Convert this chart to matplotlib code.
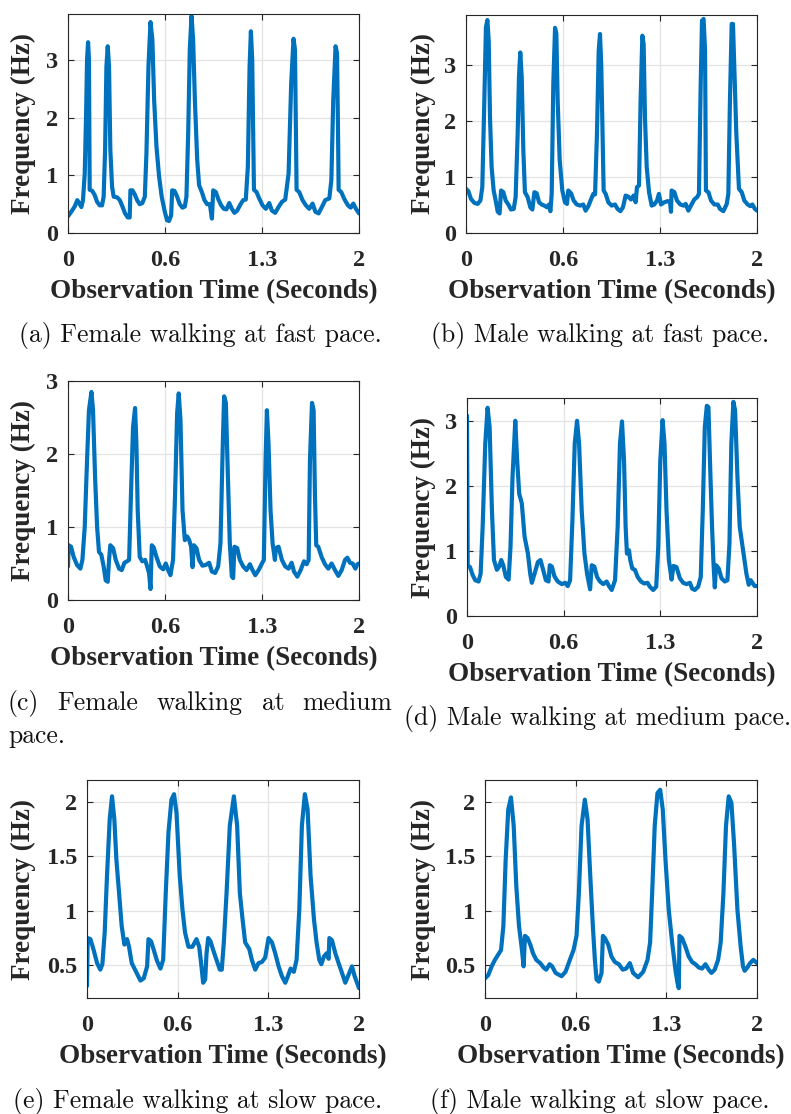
import numpy as np
import matplotlib
matplotlib.use("Agg")
import matplotlib.pyplot as plt
from matplotlib.ticker import FuncFormatter

# gait frequency traces, time in seconds / frequency in Hz
t_a = [0.000, 0.023, 0.046, 0.064, 0.080, 0.092, 0.103, 0.115, 0.124, 0.131, 0.138, 0.144, 0.147, 0.149,
       0.167, 0.183, 0.200, 0.218, 0.234, 0.245, 0.255, 0.264, 0.273, 0.282, 0.291, 0.303, 0.314,
       0.337, 0.356, 0.374, 0.392, 0.411, 0.424, 0.429, 0.443, 0.459, 0.475, 0.493, 0.511, 0.528, 0.539,
       0.553, 0.567, 0.580, 0.592, 0.608, 0.626, 0.644, 0.665, 0.681, 0.695,
       0.709, 0.716, 0.732, 0.750, 0.768, 0.787, 0.803, 0.814, 0.826, 0.837, 0.849, 0.860, 0.872, 0.888,
       0.901, 0.920, 0.938, 0.956, 0.975, 0.989,
       0.998, 1.016, 1.034, 1.053, 1.071, 1.089, 1.108, 1.126, 1.144, 1.163, 1.186, 1.204, 1.222, 1.236,
       1.248, 1.257, 1.266, 1.273, 1.278,
       1.296, 1.314, 1.337, 1.360, 1.383, 1.401, 1.424, 1.447, 1.470, 1.493, 1.516, 1.534, 1.550, 1.560,
       1.567, 1.571,
       1.589, 1.612, 1.635, 1.658, 1.681, 1.700, 1.722, 1.745, 1.768, 1.796, 1.810, 1.823, 1.839, 1.849,
       1.856, 1.860,
       1.878, 1.901, 1.924, 1.943, 1.961, 1.979, 2.000]
f_a = [0.29, 0.37, 0.46, 0.57, 0.50, 0.45, 0.57, 1.03, 2.02, 3.01, 3.31, 3.01, 1.73, 0.75,
       0.73, 0.66, 0.54, 0.48, 0.48, 0.63, 1.44, 2.89, 3.24, 2.89, 1.44, 0.80, 0.63,
       0.62, 0.57, 0.46, 0.34, 0.27, 0.27, 0.74, 0.74, 0.67, 0.57, 0.50, 0.52, 0.63, 1.38,
       2.89, 3.66, 3.35, 2.31, 1.50, 0.98, 0.63, 0.37, 0.22, 0.21,
       0.31, 0.74, 0.73, 0.63, 0.50, 0.44, 0.46, 0.63, 1.73, 3.18, 3.77, 3.35, 2.31, 1.27,
       0.83, 0.71, 0.57, 0.50, 0.50, 0.25,
       0.74, 0.71, 0.58, 0.48, 0.42, 0.41, 0.52, 0.42, 0.35, 0.39, 0.50, 0.57, 0.58, 1.15,
       2.89, 3.50, 3.01, 1.73, 0.75,
       0.71, 0.60, 0.48, 0.42, 0.52, 0.39, 0.35, 0.45, 0.54, 0.58, 1.03, 2.60, 3.37, 3.18,
       1.73, 0.75,
       0.71, 0.57, 0.48, 0.42, 0.51, 0.37, 0.34, 0.45, 0.57, 0.60, 0.92, 2.31, 3.24, 3.12,
       1.73, 0.75,
       0.71, 0.58, 0.48, 0.44, 0.51, 0.42, 0.34]

t_b = [0.000, 0.016, 0.034, 0.057, 0.080, 0.099, 0.112, 0.126, 0.137, 0.147, 0.156, 0.165, 0.176, 0.190,
       0.204, 0.218, 0.231,
       0.241, 0.257, 0.273, 0.291, 0.309, 0.328, 0.341, 0.355, 0.364, 0.373, 0.383, 0.394, 0.405, 0.424,
       0.442, 0.456,
       0.470, 0.486, 0.502, 0.520, 0.538, 0.557, 0.570, 0.580, 0.589, 0.600, 0.612, 0.621, 0.630, 0.644,
       0.662, 0.680, 0.694,
       0.703, 0.722, 0.740, 0.761, 0.784, 0.806, 0.822, 0.841, 0.859, 0.875, 0.887, 0.900, 0.912, 0.921,
       0.930, 0.939, 0.946,
       0.960, 0.978, 1.001, 1.024, 1.042, 1.061, 1.079, 1.097, 1.116, 1.134, 1.152, 1.166, 1.175, 1.189,
       1.200, 1.212, 1.221, 1.230, 1.242, 1.258,
       1.276, 1.294, 1.313, 1.326, 1.340, 1.363, 1.386, 1.402, 1.409, 1.413,
       1.432, 1.450, 1.473, 1.496, 1.510, 1.528, 1.546, 1.569, 1.588, 1.601, 1.613, 1.622, 1.633, 1.643,
       1.649,
       1.666, 1.684, 1.707, 1.730, 1.746, 1.769, 1.792, 1.803, 1.814, 1.826, 1.835, 1.844, 1.858, 1.876,
       1.895, 1.913, 1.936, 1.954, 1.968, 1.986, 2.000]
f_b = [0.79, 0.75, 0.61, 0.54, 0.52, 0.58, 0.82, 2.37, 3.68, 3.81, 3.44, 2.07, 1.18, 0.76,
       0.58, 0.38, 0.35,
       0.76, 0.73, 0.58, 0.51, 0.42, 0.43, 0.64, 1.77, 2.79, 3.23, 2.79, 1.48, 0.73, 0.64,
       0.46, 0.42,
       0.73, 0.71, 0.55, 0.51, 0.49, 0.46, 0.51, 0.39, 0.70, 2.67, 3.67, 3.56, 2.37, 1.30,
       0.76, 0.55, 0.52,
       0.76, 0.71, 0.58, 0.51, 0.49, 0.51, 0.40, 0.48, 0.60, 0.70, 0.69, 1.77, 3.26, 3.56,
       2.96, 1.77, 0.76,
       0.70, 0.55, 0.49, 0.51, 0.43, 0.39, 0.46, 0.67, 0.65, 0.60, 0.67, 0.55, 0.82, 0.85,
       2.37, 3.53, 3.38, 2.07, 1.18, 0.73,
       0.49, 0.51, 0.58, 0.70, 0.51, 0.55, 0.57, 0.55, 0.38, 0.76,
       0.73, 0.58, 0.51, 0.49, 0.52, 0.40, 0.49, 0.60, 0.64, 0.70, 2.67, 3.80, 3.83, 3.26,
       0.76,
       0.73, 0.58, 0.51, 0.51, 0.43, 0.39, 0.52, 0.70, 2.37, 3.74, 3.74, 2.96, 1.77, 0.79,
       0.73, 0.58, 0.51, 0.48, 0.51, 0.43, 0.40]

t_c = [0.000, 0.005, 0.021, 0.039, 0.062, 0.085, 0.099, 0.115, 0.131, 0.144, 0.161, 0.172, 0.186, 0.200,
       0.213, 0.229, 0.245, 0.259, 0.273,
       0.282, 0.291, 0.310, 0.328, 0.351, 0.369, 0.388, 0.406, 0.420, 0.433, 0.447, 0.461, 0.470, 0.479,
       0.493, 0.511, 0.530, 0.544, 0.557, 0.567,
       0.576, 0.589, 0.608, 0.631, 0.654, 0.672, 0.686, 0.704, 0.722, 0.736, 0.750, 0.761, 0.773, 0.787,
       0.803, 0.819, 0.833, 0.846, 0.856,
       0.865, 0.883, 0.901, 0.924, 0.947, 0.970, 0.989, 1.011, 1.032, 1.048, 1.064, 1.073, 1.085, 1.099,
       1.112, 1.126, 1.135,
       1.144, 1.163, 1.181, 1.204, 1.227, 1.250, 1.268, 1.287, 1.310, 1.333, 1.346, 1.358, 1.367, 1.378,
       1.392, 1.406, 1.422,
       1.429, 1.447, 1.470, 1.493, 1.516, 1.537, 1.553, 1.576, 1.599, 1.622, 1.640, 1.654, 1.663, 1.677,
       1.688, 1.697, 1.706,
       1.720, 1.743, 1.766, 1.789, 1.812, 1.835, 1.858, 1.881, 1.904, 1.920, 1.938, 1.956, 1.975, 1.989,
       2.000]
f_c = [0.46, 0.75, 0.73, 0.59, 0.48, 0.43, 0.55, 1.00, 1.92, 2.60, 2.85, 2.60, 1.69, 1.00,
       0.66, 0.62, 0.46, 0.27, 0.25,
       0.55, 0.75, 0.71, 0.55, 0.43, 0.41, 0.51, 0.53, 0.55, 1.46, 2.37, 2.63, 2.15, 1.23,
       0.59, 0.53, 0.55, 0.46, 0.37, 0.15,
       0.75, 0.72, 0.59, 0.46, 0.42, 0.50, 0.42, 0.34, 0.55, 1.46, 2.56, 2.83, 2.47, 1.23,
       0.82, 0.87, 0.82, 0.73, 0.45,
       0.75, 0.71, 0.55, 0.47, 0.48, 0.51, 0.39, 0.37, 0.46, 0.78, 2.15, 2.79, 2.70, 1.69,
       0.78, 0.32, 0.30,
       0.73, 0.71, 0.55, 0.46, 0.41, 0.49, 0.41, 0.34, 0.41, 0.50, 0.55, 1.92, 2.60, 2.15,
       1.23, 0.78, 0.55,
       0.71, 0.73, 0.55, 0.46, 0.43, 0.51, 0.39, 0.32, 0.41, 0.53, 0.49, 0.55, 1.92, 2.70,
       2.60, 1.46, 0.75,
       0.73, 0.59, 0.49, 0.43, 0.50, 0.41, 0.33, 0.41, 0.55, 0.58, 0.51, 0.50, 0.43, 0.49,
       0.50]

t_d = [0.000, 0.005, 0.021, 0.039, 0.057, 0.080, 0.094, 0.108, 0.126, 0.142, 0.156, 0.172, 0.186, 0.206,
       0.222, 0.236, 0.250, 0.268, 0.287,
       0.300, 0.314, 0.333, 0.346, 0.360, 0.378, 0.397, 0.420, 0.436, 0.447, 0.466, 0.489, 0.507, 0.525,
       0.544, 0.562,
       0.571, 0.585, 0.603, 0.626, 0.654, 0.677, 0.695, 0.711, 0.727, 0.743, 0.759, 0.773, 0.791, 0.810,
       0.828, 0.849,
       0.860, 0.878, 0.897, 0.917, 0.940, 0.963, 0.979, 0.998, 1.021, 1.039, 1.055, 1.069, 1.083, 1.094,
       1.103,
       1.117, 1.126, 1.140, 1.158, 1.177, 1.200, 1.222, 1.245, 1.261, 1.284, 1.305,
       1.319, 1.333, 1.349, 1.362, 1.376, 1.392, 1.411,
       1.424, 1.445, 1.468, 1.491, 1.514, 1.537, 1.553, 1.571, 1.594, 1.612, 1.626, 1.640, 1.654, 1.665,
       1.679, 1.690, 1.700, 1.709,
       1.718, 1.736, 1.755, 1.778, 1.796, 1.810, 1.823, 1.837, 1.849, 1.865, 1.881, 1.904, 1.927, 1.943,
       1.956, 1.972, 1.984, 2.000]
f_d = [3.08, 0.78, 0.75, 0.63, 0.55, 0.53, 0.65, 1.37, 2.65, 3.20, 2.90, 1.62, 0.86, 0.71,
       0.76, 0.86, 0.78, 0.60, 0.56,
       1.06, 2.14, 3.00, 2.39, 1.88, 1.73, 1.22, 0.96, 0.65, 0.51, 0.65, 0.83, 0.86, 0.71,
       0.55, 0.53,
       0.78, 0.76, 0.61, 0.53, 0.49, 0.51, 0.46, 0.55, 1.47, 2.65, 3.00, 2.65, 1.62, 0.96,
       0.65, 0.41,
       0.78, 0.76, 0.60, 0.53, 0.49, 0.53, 0.46, 0.40, 0.55, 1.37, 2.65, 2.99, 2.39, 1.37,
       0.96,
       1.01, 0.86, 0.73, 0.71, 0.60, 0.53, 0.50, 0.51, 0.45, 0.40, 0.45,
       1.06, 2.39, 3.01, 2.65, 1.62, 0.86, 0.56,
       0.77, 0.75, 0.58, 0.51, 0.49, 0.51, 0.42, 0.40, 0.45, 0.60, 1.62, 2.90, 3.23, 3.21,
       2.14, 1.37, 0.81, 0.44,
       0.78, 0.73, 0.58, 0.53, 0.55, 1.11, 2.65, 3.29, 3.16, 2.14, 1.37, 1.01, 0.65, 0.48,
       0.55, 0.50, 0.46, 0.46]

t_e = [0.000, 0.005, 0.025, 0.049, 0.074, 0.098, 0.113, 0.130, 0.147, 0.167, 0.184, 0.201, 0.216, 0.236,
       0.255, 0.275,
       0.294, 0.309, 0.329, 0.353, 0.373, 0.393, 0.417, 0.442, 0.452, 0.471, 0.491, 0.515, 0.540, 0.560,
       0.579, 0.599, 0.621, 0.640, 0.658, 0.682, 0.702, 0.721, 0.746, 0.775, 0.805, 0.825, 0.839, 0.854,
       0.869,
       0.879, 0.891, 0.908, 0.928, 0.952, 0.977, 0.991, 1.006, 1.026, 1.050, 1.080, 1.104, 1.124, 1.144,
       1.163, 1.193, 1.212, 1.237,
       1.261, 1.286, 1.310, 1.335, 1.360, 1.384, 1.409, 1.433, 1.458, 1.477, 1.497, 1.521, 1.541,
       1.561, 1.580, 1.602, 1.622, 1.644, 1.669, 1.688, 1.708, 1.723, 1.742, 1.762, 1.777, 1.782, 1.801,
       1.826, 1.850, 1.875, 1.899, 1.919, 1.948, 1.968, 2.000]
f_e = [0.31, 0.75, 0.74, 0.64, 0.52, 0.46, 0.51, 0.80, 1.32, 1.84, 2.05, 1.84, 1.47, 1.16,
       0.86, 0.69,
       0.74, 0.67, 0.52, 0.46, 0.41, 0.36, 0.38, 0.49, 0.74, 0.72, 0.64, 0.54, 0.47, 0.55,
       1.16, 1.72, 2.02, 2.07, 1.90, 1.32, 1.01, 0.80, 0.67, 0.67, 0.74, 0.67, 0.52, 0.34,
       0.37,
       0.61, 0.75, 0.72, 0.64, 0.55, 0.46, 0.46, 0.71, 1.16, 1.78, 2.05, 1.78, 1.16, 0.92,
       0.71, 0.65, 0.55, 0.46,
       0.52, 0.53, 0.57, 0.75, 0.71, 0.61, 0.49, 0.40, 0.34, 0.40, 0.47, 0.44, 0.55,
       1.01, 1.78, 2.07, 1.93, 1.32, 0.92, 0.71, 0.55, 0.51, 0.58, 0.61, 0.56, 0.75, 0.73,
       0.61, 0.52, 0.43, 0.34, 0.40, 0.49, 0.40, 0.29]

t_f = [0.000, 0.024, 0.049, 0.073, 0.098, 0.118, 0.135, 0.152, 0.171, 0.191, 0.211, 0.230, 0.250, 0.269,
       0.284,
       0.294, 0.313, 0.333, 0.353, 0.377, 0.406, 0.431, 0.450, 0.475, 0.494, 0.519, 0.563, 0.592, 0.624,
       0.651, 0.673,
       0.690, 0.710, 0.734, 0.754, 0.774, 0.793, 0.808, 0.820, 0.837, 0.857,
       0.867, 0.881, 0.906, 0.930, 0.955, 0.984, 1.013, 1.038, 1.065, 1.089, 1.126, 1.163, 1.195, 1.214,
       1.229, 1.248, 1.268, 1.288, 1.307, 1.327, 1.351, 1.376, 1.400, 1.415, 1.425,
       1.430, 1.449, 1.474, 1.498, 1.523, 1.547, 1.572, 1.596, 1.621, 1.645, 1.665, 1.689, 1.714, 1.733,
       1.753, 1.772, 1.792, 1.812, 1.831, 1.856, 1.880, 1.897, 1.909, 1.929, 1.949, 1.973, 2.000]
f_f = [0.38, 0.41, 0.49, 0.55, 0.60, 0.64, 0.86, 1.47, 1.93, 2.04, 1.78, 1.23, 0.86, 0.67,
       0.49,
       0.77, 0.75, 0.69, 0.61, 0.55, 0.52, 0.48, 0.46, 0.51, 0.49, 0.43, 0.40, 0.44, 0.55,
       0.64, 0.77,
       1.16, 1.78, 2.02, 1.84, 1.32, 0.86, 0.55, 0.37, 0.35, 0.43,
       0.77, 0.75, 0.69, 0.58, 0.53, 0.51, 0.46, 0.47, 0.52, 0.43, 0.39, 0.44, 0.55, 0.71,
       1.16, 1.78, 2.08, 2.11, 1.93, 1.47, 1.01, 0.71, 0.46, 0.34, 0.29,
       0.77, 0.75, 0.67, 0.58, 0.53, 0.51, 0.48, 0.47, 0.51, 0.46, 0.43, 0.46, 0.55, 0.71,
       1.16, 1.78, 2.05, 1.99, 1.62, 1.01, 0.67, 0.49, 0.45, 0.48, 0.52, 0.55, 0.52]

x_ticks = [0, 2 / 3, 4 / 3, 2]
x_ticklabels = ["0", "0.6", "1.3", "2"]
captions = ["(a) Female walking at fast pace.",
            "(b) Male walking at fast pace.",
            "(c) Female walking at medium pace.",
            "(d) Male walking at medium pace.",
            "(e) Female walking at slow pace.",
            "(f) Male walking at slow pace."]

W, H = 791, 1114
BLUE = "#0072BD"
DARK = "#262626"

plt.rcParams["font.family"] = ["Liberation Serif", "DejaVu Serif"]
plt.rcParams["font.weight"] = "bold"

fig = plt.figure(figsize=(W / 100, H / 100), dpi=100)


def px_axes(left, top, right, bottom):
    return fig.add_axes([left / W, 1 - bottom / H, (right - left) / W, (bottom - top) / H])


# series, axes box (px), y range, y ticks, x position of the y label (px)
panels = [
    (t_a, f_a, (68, 14, 359, 233), (0, 3.8), [0, 1, 2, 3], 36),
    (t_b, f_b, (466, 15, 757, 233), (0, 3.9), [0, 1, 2, 3], 436),
    (t_c, f_c, (68, 381, 359, 600), (0, 3), [0, 1, 2, 3], 36),
    (t_d, f_d, (467, 398, 757, 616), (0, 3.35), [0, 1, 2, 3], 436),
    (t_e, f_e, (87, 780, 359, 998), (0.2, 2.2), [0.5, 1, 1.5, 2], 36),
    (t_f, f_f, (485, 780, 757, 998), (0.2, 2.2), [0.5, 1, 1.5, 2], 436),
]

for t, f, box, ylim, yticks, ylab_x in panels:
    ax = px_axes(*box)
    ax.plot(t, f, color=BLUE, lw=3.0, solid_joinstyle="round", solid_capstyle="round")
    ax.set_xlim(0, 2)
    ax.set_ylim(*ylim)
    ax.set_xticks(x_ticks)
    ax.set_xticklabels(x_ticklabels)
    ax.set_yticks(yticks)
    ax.yaxis.set_major_formatter(FuncFormatter(lambda v, p: "%g" % v))
    ax.grid(True, color="#e3e3e3", lw=0.9)
    ax.set_axisbelow(True)
    ax.tick_params(direction="in", top=True, right=True, length=4, width=0.8,
                   color=DARK, labelcolor=DARK, labelsize=17.5)
    ax.tick_params(axis="x", pad=12)
    ax.tick_params(axis="y", pad=7)
    for s in ax.spines.values():
        s.set_color(DARK)
        s.set_linewidth(0.8)
    ax.set_xlabel("Observation Time (Seconds)", fontsize=19.5, fontweight="bold", color=DARK)
    ax.set_ylabel("Frequency (Hz)", fontsize=19.5, fontweight="bold", color=DARK)
    hgt = box[3] - box[1]
    wid = box[2] - box[0]
    ax.xaxis.set_label_coords(0.5, -46 / hgt)
    ax.yaxis.set_label_coords(-(box[0] - ylab_x) / wid, 0.5)

# subfigure captions
cap = dict(family="cmr10", fontsize=18.5, color="#111111", fontweight="normal", va="baseline")
fig.text(200 / W, 1 - 342 / H, captions[0], ha="center", **cap)
fig.text(600 / W, 1 - 342 / H, captions[1], ha="center", **cap)
words = captions[2].split()
word_x = [8, 57, 157, 262, 302]
for w, x in zip(words[:5], word_x):
    fig.text(x / W, 1 - 710 / H, w, ha="left", **cap)
fig.text(8 / W, 1 - 743 / H, words[5], ha="left", **cap)
fig.text(598 / W, 1 - 725 / H, captions[3], ha="center", **cap)
fig.text(198 / W, 1 - 1108 / H, captions[4], ha="center", **cap)
fig.text(600 / W, 1 - 1108 / H, captions[5], ha="center", **cap)

fig.savefig("out.png", dpi=100)
